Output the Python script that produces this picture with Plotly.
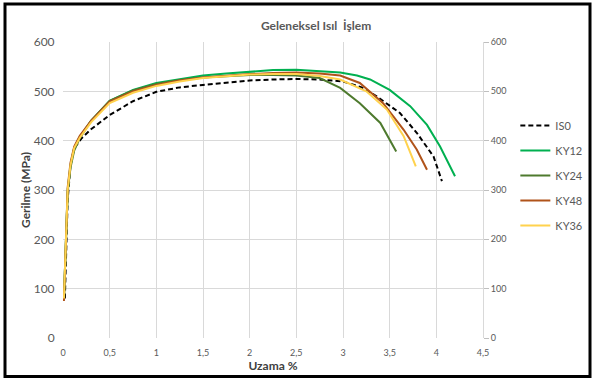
import plotly.graph_objects as go

# ---- data ----
iso_x = [0.02, 0.03, 0.05, 0.08, 0.12, 0.2, 0.3, 0.5, 0.75, 1.0, 1.25, 1.5, 1.75, 2.0, 2.25, 2.5, 2.75, 3.0, 3.2, 3.36, 3.61, 3.79, 3.97, 4.06]
iso_y = [80, 170, 280, 350, 385, 405, 423, 452, 480, 499, 508, 513, 518, 522, 524, 525, 524, 520, 508, 490, 456, 416, 368, 318]

early_x = [0.01, 0.03, 0.05, 0.08, 0.12, 0.18, 0.3, 0.5, 0.75, 1.0, 1.25, 1.5, 1.75, 2.0, 2.25, 2.5]

ky12_x = early_x + [2.75, 2.97, 3.15, 3.29, 3.5, 3.72, 3.9, 4.04, 4.2]
ky12_y = [80, 200, 300, 350, 385, 408, 440, 481, 503, 517, 525, 532, 536, 540, 543, 544,
          541, 538, 532, 524, 503, 470, 432, 388, 328]

ky24_x = early_x + [2.75, 2.97, 3.18, 3.4, 3.57]
ky24_y = [80, 200, 295, 345, 380, 405, 440, 481, 502, 515, 523, 528, 531, 533, 533, 532,
          527, 507, 476, 436, 378]

ky48_x = early_x + [2.75, 2.97, 3.18, 3.43, 3.65, 3.79, 3.9]
ky48_y = [75, 210, 305, 355, 388, 410, 440, 479, 500, 513, 522, 528, 532, 535, 537, 538,
          536, 532, 517, 476, 422, 382, 341]

ky36_x = early_x + [2.75, 2.97, 3.25, 3.47, 3.65, 3.78]
ky36_y = [80, 205, 300, 350, 385, 406, 437, 476, 497, 511, 520, 527, 531, 534, 535, 535,
          531, 524, 500, 463, 409, 348]

x_ticks = [0, 0.5, 1, 1.5, 2, 2.5, 3, 3.5, 4, 4.5]
x_tick_labels = ["0", "0,5", "1", "1,5", "2", "2,5", "3", "3,5", "4", "4,5"]
y_ticks = [0, 100, 200, 300, 400, 500, 600]

FONT = "Lato"
GRAY = "#595959"

fig = go.Figure()
series = [
    ("IS0", iso_x, iso_y, "#000000", "5px,3px"),
    ("KY12", ky12_x, ky12_y, "#00B050", "solid"),
    ("KY24", ky24_x, ky24_y, "#4E7A2E", "solid"),
    ("KY48", ky48_x, ky48_y, "#B0531A", "solid"),
    ("KY36", ky36_x, ky36_y, "#FFD24D", "solid"),
]
for name, xs, ys, col, dash in series:
    fig.add_trace(go.Scatter(x=xs, y=ys, name=name, mode="lines", legendgroup=name,
                             line=dict(color=col, width=2, dash=dash)))

# invisible trace to show right axis
fig.add_trace(go.Scatter(x=[0], y=[0], yaxis="y2", mode="markers", marker=dict(opacity=0),
                         showlegend=False, hoverinfo="skip"))

fig.update_layout(
    width=593, height=380,
    margin=dict(l=63, r=110, t=42, b=41.5, autoexpand=False),
    paper_bgcolor="white", plot_bgcolor="white",
    font=dict(family=FONT, color=GRAY),
    title=dict(text="<b>Geleneksel Isıl  İşlem</b>", x=0.533, xanchor="center", y=0.932, yanchor="middle",
               font=dict(size=12, color=GRAY)),
    xaxis=dict(range=[0, 4.5], tickvals=x_ticks, ticktext=x_tick_labels,
               showgrid=True, gridcolor="#D9D9D9", gridwidth=1, zeroline=False,
               showline=False, tickfont=dict(size=9, color=GRAY), ticks="outside", ticklen=6,
               tickcolor="rgba(0,0,0,0)",
               title=dict(text="<b>Uzama %</b>", font=dict(size=12, color="#404040"), standoff=3)),
    yaxis=dict(range=[0, 600], tickvals=y_ticks, showgrid=True, gridcolor="#D9D9D9", gridwidth=1,
               zeroline=False, showline=False, tickfont=dict(size=12, color=GRAY), ticks="outside",
               ticklen=5, tickcolor="rgba(0,0,0,0)",
               title=dict(text="<b>Gerilme (MPa)</b>", font=dict(size=12, color="#404040"), standoff=0)),
    yaxis2=dict(range=[0, 600], tickvals=y_ticks, overlaying="y", side="right", showgrid=False,
                zeroline=False, showline=True, linecolor="#D9D9D9", ticks="outside", ticklen=5,
                tickcolor="#BFBFBF", tickfont=dict(size=9, color=GRAY)),
    legend=dict(x=1.077, xanchor="left", y=0.767, yanchor="top", tracegroupgap=6,
                font=dict(size=11, color=GRAY), bgcolor="rgba(0,0,0,0)"),
    shapes=[dict(type="rect", xref="paper", yref="paper",
                 x0=(5 - 63) / 420, x1=(590 - 63) / 420,
                 y0=(338.5 - 377) / 296.5, y1=(338.5 - 4) / 296.5,
                 line=dict(color="black", width=3), fillcolor="rgba(0,0,0,0)")],
)

fig.write_html("out.html", config={"displayModeBar": False},
               post_script="document.body.style.margin='0';document.body.style.overflow='hidden';")
